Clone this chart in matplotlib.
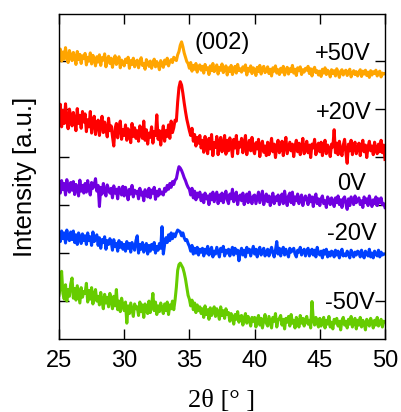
import numpy as np
import matplotlib
matplotlib.use("Agg")
import matplotlib.pyplot as plt

plt.rcParams['font.family'] = ['Liberation Sans', 'DejaVu Sans']

# 2theta grid (degrees), step 0.1 from 25 to 50
two_theta = np.round(np.arange(25.0, 50.0001, 0.1), 2)

# Relative intensities in units of 0.01 a.u., one line per degree (25.0..25.9, 26.0..26.9, ...)
int_p50 = [
    40, 52, 27, 46, 31, 55, 35, 24, 49, 38,
    28, 45, 36, 20, 47, 30, 41, 22, 38, 33,
    43, 19, 35, 27, 44, 21, 39, 31, 17, 36,
    25, 40, 18, 34, 29, 42, 15, 31, 37, 22,
    33, 14, 30, 38, 20, 27, 36, 13, 29, 24,
    17, 31, 24, 35, 12, 28, 20, 33, 15, 26,
    29, 13, 25, 34, 18, 22, 10, 30, 24, 16,
    27, 12, 23, 31, 15, 26, 19, 9, 28, 20,
    14, 29, 21, 33, 17, 26, 30, 24, 35, 32,
    28, 40, 47, 60, 67, 57, 44, 35, 26, 22,
    12, 24, 6, 18, 10, 22, 4, 15, 19, 8,
    16, 2, 20, 9, 13, -1, 17, 7, 22, 5,
    11, 19, 0, 14, 8, 21, 3, 12, 17, -2,
    13, 5, 18, -1, 10, 16, 2, 20, 7, 11,
    4, 15, 8, 19, -2, 12, 6, 17, 1, 13,
    9, -3, 14, 5, 18, 0, 11, 16, 3, 8,
    15, 1, 10, -4, 13, 6, 17, 2, 9, -1,
    12, 4, 16, -2, 8, 14, 0, 11, 5, 18,
    2, 10, -3, 13, 7, 15, -1, 9, 4, 12,
    8, 16, 1, 11, -4, 9, 14, 3, 7, -2,
    6, -5, 10, 2, 13, -1, 8, 4, -6, 9,
    1, 7, -4, 11, 3, -7, 6, 9, -2, 5,
    8, -3, 4, 10, -6, 2, 7, -1, 5, -4,
    3, 9, -5, 6, 0, 8, -3, 4, -7, 7,
    -2, 5, 1, 8, -4, 3, 6, -6, 2, 0,
    1]

int_p20 = [
    68, 95, 48, 82, 55, 96, 60, 44, 85, 70,
    50, 78, 62, 40, 86, 55, 72, 45, 80, 58,
    75, 38, 63, 48, 80, 35, 58, 70, 32, 55,
    62, 30, 52, 70, 36, 58, 44, 27, 66, 40,
    50, 28, 8, 45, 55, 25, 48, 60, 22, 42,
    30, 52, 20, 44, 38, 15, 55, 28, 46, 24,
    40, 18, 50, 32, 24, 60, 20, 42, 12, 35,
    26, 48, 14, 38, 30, 73, 22, 40, 10, 34,
    50, 18, 40, 28, 52, 24, 60, 36, 46, 62,
    60, 100, 130, 142, 135, 118, 98, 80, 64, 52,
    40, 30, 45, 18, 32, 8, 26, 14, 30, 4,
    20, -5, 28, 8, -8, 24, 2, 32, -12, 15,
    5, 28, -10, 18, 26, -4, 12, 30, -9, 20,
    -2, 25, 10, -14, 22, 4, 30, -8, 16, 6,
    24, -6, 14, 30, -10, 8, 20, -2, 26, 0,
    -8, 15, 2, 22, -14, 10, 18, -5, 8, -12,
    16, -10, 6, 24, -4, 12, -16, 8, 20, -6,
    2, 18, -12, 10, 26, -8, 4, 16, -2, 12,
    -14, 8, 20, -4, 14, -10, 6, 24, -8, 2,
    18, -6, 10, -16, 12, 4, 22, -10, 8, 14,
    -4, 16, -12, 6, 20, -8, 10, 2, -14, 12,
    6, 42, -6, 14, -10, 18, 0, -12, 10, 22,
    -6, -28, 12, -2, 20, -10, 6, 16, -8, 4,
    14, -12, 8, 20, -4, 10, -16, 6, 18, -2,
    8, -10, 16, 2, -8, 12, -4, 20, -6, 10,
    -20]

int_0 = [
    32, 18, 44, 25, 38, 14, 46, 28, 20, 40,
    24, 42, 15, 36, 30, 12, 45, 22, 34, 18,
    38, 20, 44, 26, 14, 40, 28, 35, 48, 22,
    34, -10, 30, 16, 38, 22, 12, 35, 26, 18,
    28, 8, 33, 18, 26, 6, 30, 22, 14, 32,
    12, 30, 20, 4, 26, 16, 34, 10, 24, 18,
    22, 6, 28, 14, 20, 2, 25, 16, 10, 28,
    8, 24, 18, 30, 5, 22, 12, 26, 16, 20,
    14, 28, 22, 34, 26, 38, 30, 42, 36, 45,
    48, 62, 73, 70, 65, 58, 50, 44, 36, 30,
    26, 14, 28, 8, 22, 4, 18, 10, 20, 2,
    14, -2, 18, 6, 12, -6, 16, 4, 20, 0,
    10, 20, -4, 14, 2, 18, -2, 12, 22, 4,
    -4, 16, 6, 26, 0, 12, 20, -6, 10, 14,
    2, 18, -6, 10, 16, -2, 20, 4, -4, 12,
    14, -4, 8, 20, -2, 10, 22, -6, 6, 16,
    0, 12, -8, 6, 18, -4, 10, 2, 14, -6,
    8, 16, -4, 22, 4, -8, 12, 18, -2, 20,
    -6, 10, 2, 16, -4, 8, 14, -8, 6, 12,
    4, -6, 14, 0, 10, -10, 8, 16, -4, 6,
    -8, 6, 12, -4, 2, -12, 10, 4, -6, 8,
    2, -10, 8, -2, 12, -6, 4, -12, 6, 10,
    -4, -16, 6, -8, 10, 2, -6, 12, -2, 4,
    8, -6, 2, -12, 10, -2, 6, -8, 12, 0,
    -10, 4, -4, 10, -8, 6, -2, 8, -6, -4,
    -12]

int_m20 = [
    42, 28, 50, 34, 46, 25, 52, 36, 30, 48,
    32, 50, 26, 42, 22, 46, 38, 24, 44, 30,
    40, 22, 46, 30, 38, 20, 48, 28, 36, 42,
    20, 36, 14, 32, 26, 38, 12, 30, 22, 34,
    28, 10, 32, 18, 24, 8, 30, 16, 26, 12,
    22, 8, 28, 14, 24, 6, 26, 18, 10, 30,
    40, 4, 22, 12, 26, 6, 18, 24, 2, 20,
    8, 22, 12, 26, 4, 18, 10, 24, 14, 59,
    2, 22, 36, 26, 42, 30, 46, 34, 44, 38,
    46, 52, 50, 48, 40, 46, 36, 30, 32, 24,
    18, 8, 20, 2, 14, 4, 16, 0, 12, 6,
    14, -2, 12, 4, 18, 0, 10, 16, -4, 8,
    2, 16, 6, -4, 14, 8, 18, -2, 10, 4,
    12, -2, 8, 16, 0, 14, 4, 10, -12, 6,
    14, 0, 10, -4, 16, 6, 12, -2, 8, 18,
    2, 12, -4, 10, 16, 0, 8, 14, -2, 6,
    12, -2, 8, 16, 4, -4, 10, 28, 2, 14,
    -2, 10, 16, 0, 12, 4, -4, 14, 6, 10,
    14, 2, -4, 10, 6, 16, 0, 8, 12, -2,
    8, 14, -2, 6, 12, 0, 10, -4, 16, 4,
    0, 8, -6, 10, 2, 12, -4, 6, -2, 8,
    6, -4, 10, 0, 8, -6, 4, 12, -2, 2,
    -2, 8, 2, -6, 10, 4, -4, 6, 0, 8,
    6, -4, 10, 0, -6, 8, 2, -2, 12, -4,
    4, -6, 8, 2, -2, 10, -4, 6, 0, 2,
    2]

int_m50 = [
    58, 76, 108, 62, 50, 80, 46, 70, 56, 82,
    94, 52, 72, 48, 78, 60, 42, 74, 54, 66,
    62, 83, 44, 68, 50, 74, 40, 60, 70, 46,
    56, 38, 64, 46, 30, 60, 42, 54, 34, 62,
    48, 30, 56, 36, 70, 28, 46, 24, 52, 38,
    26, 44, 0, 36, 20, 42, 28, 14, 40, 30,
    34, 16, 44, 24, 38, 12, 40, 28, 20, 46,
    22, 38, 62, 26, 44, 18, 36, 24, 42, 30,
    20, 40, 26, 44, 18, 38, 30, 46, 28, 48,
    75, 110, 122, 125, 120, 115, 105, 92, 75, 58,
    50, 36, 48, 28, 42, 22, 38, 26, 34, 20,
    30, 12, 36, 18, 28, 8, 32, 16, 24, 34,
    14, 30, 20, 8, 34, 16, 26, 10, 30, 18,
    22, 4, 20, 12, -2, 18, 8, 24, 2, 14,
    16, -4, 10, 20, 0, 14, 6, -6, 12, 4,
    12, -8, 8, 16, -4, 10, -10, 6, 18, 0,
    -6, 14, 2, -10, 12, 4, 20, -8, 6, 10,
    16, -4, 8, -12, 10, 2, 14, -6, 18, 0,
    6, -10, 12, 4, -8, 16, 0, 10, -6, 8,
    14, -2, 6, -10, 45, 8, -4, 12, 0, -8,
    10, -6, 4, 12, -10, 6, -2, 14, -8, 2,
    -12, 8, 0, 10, -6, 4, -14, 6, 12, -4,
    4, -10, 8, -2, 14, -8, 2, 10, -12, 6,
    -4, 12, -8, 6, 0, -14, 8, 2, -6, 10,
    2, -10, 6, -4, 12, -6, 0, 8, -8, 4,
    3]

series_labels = ['+50V', '+20V', '0V', '-20V', '-50V']
series_data = [int_p50, int_p20, int_0, int_m20, int_m50]
series_offsets = [5.72, 4.14, 3.06, 1.95, 0.53]
series_colors = ['#FFA500', '#FF0000', '#7000E0', '#0040FF', '#66CC00']
label_pos = [(48.93, 6.01), (48.98, 4.78), (48.54, 3.30), (49.35, 2.26), (49.23, 0.82)]

xticks = [25, 30, 35, 40, 45, 50]
yticks = [1, 2, 3, 4, 5, 6]

fig = plt.figure(figsize=(4.01, 4.12), dpi=100)
ax = fig.add_axes([59 / 401, 1 - 339 / 412, 326 / 401, 325 / 412])

for vals, off, col in zip(series_data, series_offsets, series_colors):
    ax.plot(two_theta, np.array(vals) / 100.0 + off, color=col, lw=2.2)

for lab, (lx, ly) in zip(series_labels, label_pos):
    ax.text(lx, ly, lab, ha='right', va='baseline', fontsize=17)

ax.text(37.5, 6.24, '(002)', ha='center', va='baseline', fontsize=17)

ax.set_xlim(25, 50)
ax.set_ylim(0.2, 0.2 + 325 / 48)
ax.set_xticks(xticks)
ax.set_xticklabels([str(t) for t in xticks])
ax.set_yticks(yticks)
ax.set_yticklabels([])
ax.set_axisbelow(True)
ax.tick_params(direction='in', length=7, width=1, top=True, right=True,
               labelsize=17, pad=8)
for sp in ax.spines.values():
    sp.set_linewidth(1)

ax.set_xlabel('2θ [° ]', family=['Liberation Serif', 'DejaVu Serif'], fontsize=19)
ax.xaxis.set_label_coords(0.5, -0.157)
ax.set_ylabel('Intensity [a.u.]', fontsize=18.5)
ax.yaxis.set_label_coords(-0.069, 0.5)

fig.savefig('out.png', dpi=100)
